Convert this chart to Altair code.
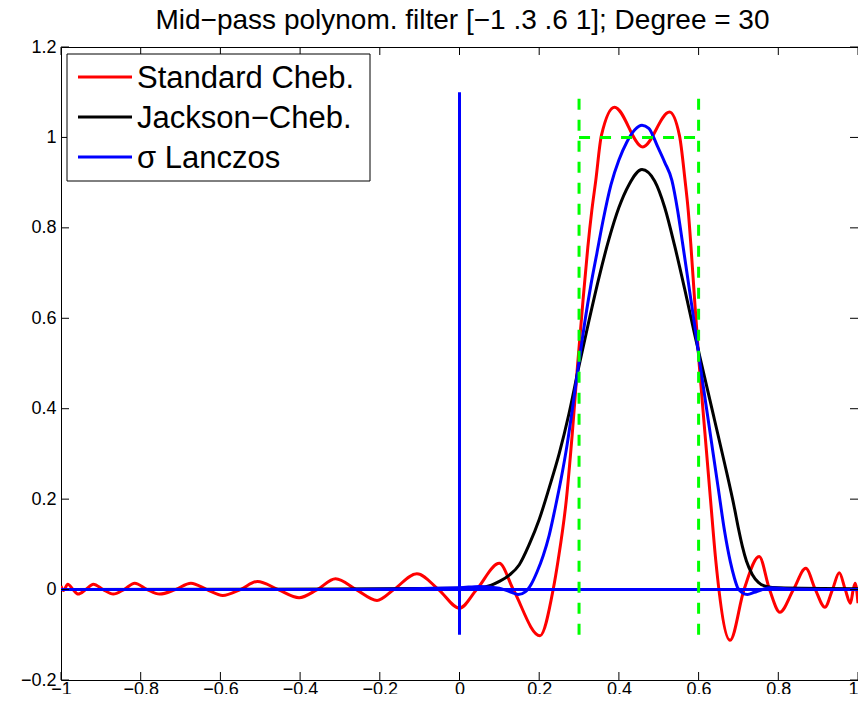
import altair as alt
import pandas as pd

# ---------------- data ----------------
title_text = "Mid\u2212pass polynom. filter [\u22121 .3 .6 1]; Degree = 30"

legend_labels = ["Standard Cheb.", "Jackson\u2212Cheb.", "\u03c3 Lanczos"]
legend_colors = ["#ff0000", "#000000", "#0000ff"]

x_ticks = [-1, -0.8, -0.6, -0.4, -0.2, 0, 0.2, 0.4, 0.6, 0.8, 1]
y_ticks = [-0.2, 0, 0.2, 0.4, 0.6, 0.8, 1, 1.2]

# Standard Chebyshev (red)
red_x = [-1.0, -0.994, -0.983, -0.97, -0.957, -0.938, -0.919, -0.894, -0.869, -0.842,
         -0.815, -0.784, -0.7525, -0.713, -0.674, -0.634, -0.594, -0.55, -0.507, -0.455,
         -0.4025, -0.357, -0.311, -0.259, -0.207, -0.165, -0.107, -0.0525, 0.0, 0.043,
         0.10, 0.135, 0.202, 0.235, 0.2475, 0.268, 0.283, 0.296, 0.31, 0.322,
         0.332, 0.342, 0.356, 0.389, 0.46, 0.527, 0.552, 0.566, 0.574, 0.581,
         0.59, 0.602, 0.616, 0.63, 0.643, 0.679, 0.714, 0.752, 0.778, 0.804,
         0.838, 0.869, 0.893, 0.917, 0.936, 0.953, 0.968, 0.981, 0.988, 0.993, 1.0]
red_y = [0.008, -0.002, 0.012, 0.0, -0.010, 0.0, 0.012, 0.0, -0.010, 0.0,
         0.014, 0.0, -0.010, 0.0, 0.014, 0.0, -0.013, 0.0, 0.018, 0.0,
         -0.018, 0.0, 0.024, 0.0, -0.024, 0.0, 0.035, 0.0, -0.041, 0.0,
         0.058, 0.0, -0.102, 0.0, 0.065, 0.198, 0.345, 0.493, 0.64, 0.757,
         0.838, 0.905, 1.004, 1.067, 0.979, 1.056, 1.004, 0.905, 0.838, 0.757,
         0.64, 0.493, 0.345, 0.198, 0.065, -0.112, 0.0, 0.073, 0.0, -0.050,
         0.0, 0.047, 0.0, -0.039, 0.0, 0.037, 0.0, -0.030, 0.0, 0.014, -0.030]

# Jackson-Chebyshev (black)
black_x = [-1.0, -0.3, 0.0, 0.05, 0.08, 0.10, 0.125, 0.15, 0.175, 0.20,
           0.225, 0.25, 0.275, 0.30, 0.325, 0.35, 0.375, 0.40, 0.425, 0.458,
           0.49, 0.515, 0.54, 0.565, 0.59, 0.615, 0.64, 0.665, 0.69, 0.70,
           0.71, 0.72, 0.735, 0.75, 0.77, 0.80, 1.0]
black_y = [0.0, 0.001, 0.003, 0.004, 0.010, 0.018, 0.032, 0.055, 0.100, 0.155,
           0.225, 0.300, 0.390, 0.495, 0.595, 0.690, 0.775, 0.845, 0.895, 0.929,
           0.903, 0.845, 0.760, 0.665, 0.565, 0.470, 0.375, 0.280, 0.180, 0.135,
           0.095, 0.063, 0.033, 0.016, 0.007, 0.004, 0.002]

# sigma Lanczos (blue)
blue_x = [-1.0, -0.3, 0.0, 0.05, 0.10, 0.13, 0.1475, 0.165, 0.18, 0.195,
          0.21, 0.225, 0.24, 0.255, 0.27, 0.285, 0.30, 0.315, 0.33, 0.345,
          0.36, 0.38, 0.40, 0.42, 0.44, 0.458, 0.475, 0.4975, 0.515, 0.533,
          0.5475, 0.56, 0.575, 0.59, 0.605, 0.62, 0.635, 0.65, 0.665, 0.68,
          0.69, 0.6975, 0.71, 0.7225, 0.74, 0.76, 0.78, 0.82, 1.0]
blue_y = [0.0, 0.0, 0.004, 0.007, 0.003, -0.006, -0.011, -0.005, 0.012, 0.040,
          0.075, 0.120, 0.180, 0.245, 0.320, 0.410, 0.505, 0.595, 0.675, 0.745,
          0.815, 0.895, 0.950, 0.990, 1.017, 1.027, 1.020, 0.979, 0.945, 0.905,
          0.838, 0.765, 0.675, 0.585, 0.490, 0.400, 0.310, 0.220, 0.130, 0.060,
          0.025, 0.005, -0.007, -0.011, -0.006, 0.0, 0.004, 0.002, 0.0]

# ideal pass band (green dashed) and reference lines (blue)
band_edges = [0.3, 0.6]
band_level = 1.0
guide_low, guide_high = -0.1, 1.1
x_range = [-1, 1]

# ---------------- chart ----------------
W, H = 797, 633
FONT = "Liberation Sans"
X = alt.Scale(domain=[-1, 1], nice=False, zero=False)
Y = alt.Scale(domain=[-0.2, 1.2], nice=False, zero=False)

AX = alt.Axis(values=x_ticks, format="~g", ticks=False, tickSize=0, domain=False, grid=False,
              labelFont=FONT, labelFontSize=18, labelColor="black",
              labelAlign={"condition": {"test": "datum.value == 1", "value": "right"}, "value": "center"},
              labelBaseline="alphabetic", labelPadding=14, title=None)
AY = alt.Axis(values=y_ticks, format="~g", ticks=False, tickSize=0, domain=False, grid=False,
              labelFont=FONT, labelFontSize=18, labelColor="black", labelPadding=5, title=None)


def xq(field):
    return alt.X(field, scale=X, axis=AX)


def yq(field):
    return alt.Y(field, scale=Y, axis=AY)


def curve(xs, ys, color):
    df = pd.DataFrame({"x": xs, "y": ys, "i": list(range(len(xs)))})
    return alt.Chart(df).mark_line(color=color, strokeWidth=3, interpolate="monotone", clip=True).encode(
        x=xq("x:Q"), y=yq("y:Q"), order="i:Q",
    )


red_line = curve(red_x, red_y, legend_colors[0])
black_line = curve(black_x, black_y, legend_colors[1])
blue_line = curve(blue_x, blue_y, legend_colors[2])

ref_df = pd.DataFrame({
    "x": [0, x_range[0]], "x2": [0, x_range[1]],
    "y": [guide_low, 0], "y2": [guide_high, 0],
})
ref_lines = alt.Chart(ref_df).mark_rule(color="#0000ff", strokeWidth=3).encode(
    x=xq("x:Q"), x2="x2:Q", y=yq("y:Q"), y2="y2:Q",
)

band_df = pd.DataFrame({
    "x": [band_edges[0], band_edges[0], band_edges[1]],
    "x2": [band_edges[0], band_edges[1], band_edges[1]],
    "y": [guide_low, band_level, guide_low],
    "y2": [guide_high, band_level, guide_high],
})
band = alt.Chart(band_df).mark_rule(color="#00ff00", strokeWidth=3, strokeDash=[11, 10]).encode(
    x=xq("x:Q"), x2="x2:Q", y=yq("y:Q"), y2="y2:Q",
)

# inward tick marks on all four sides
TL = 8
xt = pd.DataFrame({"x": x_ticks})
yt = pd.DataFrame({"y": y_ticks})
tick_bottom = alt.Chart(xt).mark_rule(color="black", strokeWidth=1).encode(
    x=xq("x:Q"), y=alt.value(H), y2=alt.value(H - TL))
tick_top = alt.Chart(xt).mark_rule(color="black", strokeWidth=1).encode(
    x=xq("x:Q"), y=alt.value(0), y2=alt.value(TL))
tick_left = alt.Chart(yt).mark_rule(color="black", strokeWidth=1).encode(
    y=yq("y:Q"), x=alt.value(0), x2=alt.value(TL))
tick_right = alt.Chart(yt).mark_rule(color="black", strokeWidth=1).encode(
    y=yq("y:Q"), x=alt.value(W), x2=alt.value(W - TL))

# title
title = alt.Chart(pd.DataFrame({"t": [title_text]})).mark_text(
    font=FONT, fontSize=28, color="black", align="center", baseline="alphabetic").encode(
    text="t:N", x=alt.value(W / 2 + 3), y=alt.value(-18))

# legend box
one = pd.DataFrame({"a": [0]})
legend_box = alt.Chart(one).mark_rect(fill="white", stroke="black", strokeWidth=1).encode(
    x=alt.value(6), x2=alt.value(309), y=alt.value(7), y2=alt.value(134))
legend_layers = [legend_box]
for i, (lab, col) in enumerate(zip(legend_labels, legend_colors)):
    row = pd.DataFrame({"label": [lab]})
    legend_layers.append(alt.Chart(row).mark_rule(color=col, strokeWidth=3).encode(
        x=alt.value(17), x2=alt.value(71), y=alt.value(30 + 40 * i)))
    legend_layers.append(alt.Chart(row).mark_text(
        font=FONT, fontSize=31, color="black", align="left", baseline="alphabetic").encode(
        text="label:N", x=alt.value(76), y=alt.value(41 + 40 * i)))

chart = alt.layer(
    red_line, black_line, blue_line, ref_lines, band,
    tick_bottom, tick_top, tick_left, tick_right, title, *legend_layers
).properties(
    width=W, height=H,
    padding={"left": 53, "top": 39, "right": 0, "bottom": 14},
    autosize=alt.AutoSizeParams(type="none"),
    background="white",
).configure_view(stroke="black", strokeWidth=1)

chart.save("out.html", embed_options={"renderer": "svg", "actions": False})
